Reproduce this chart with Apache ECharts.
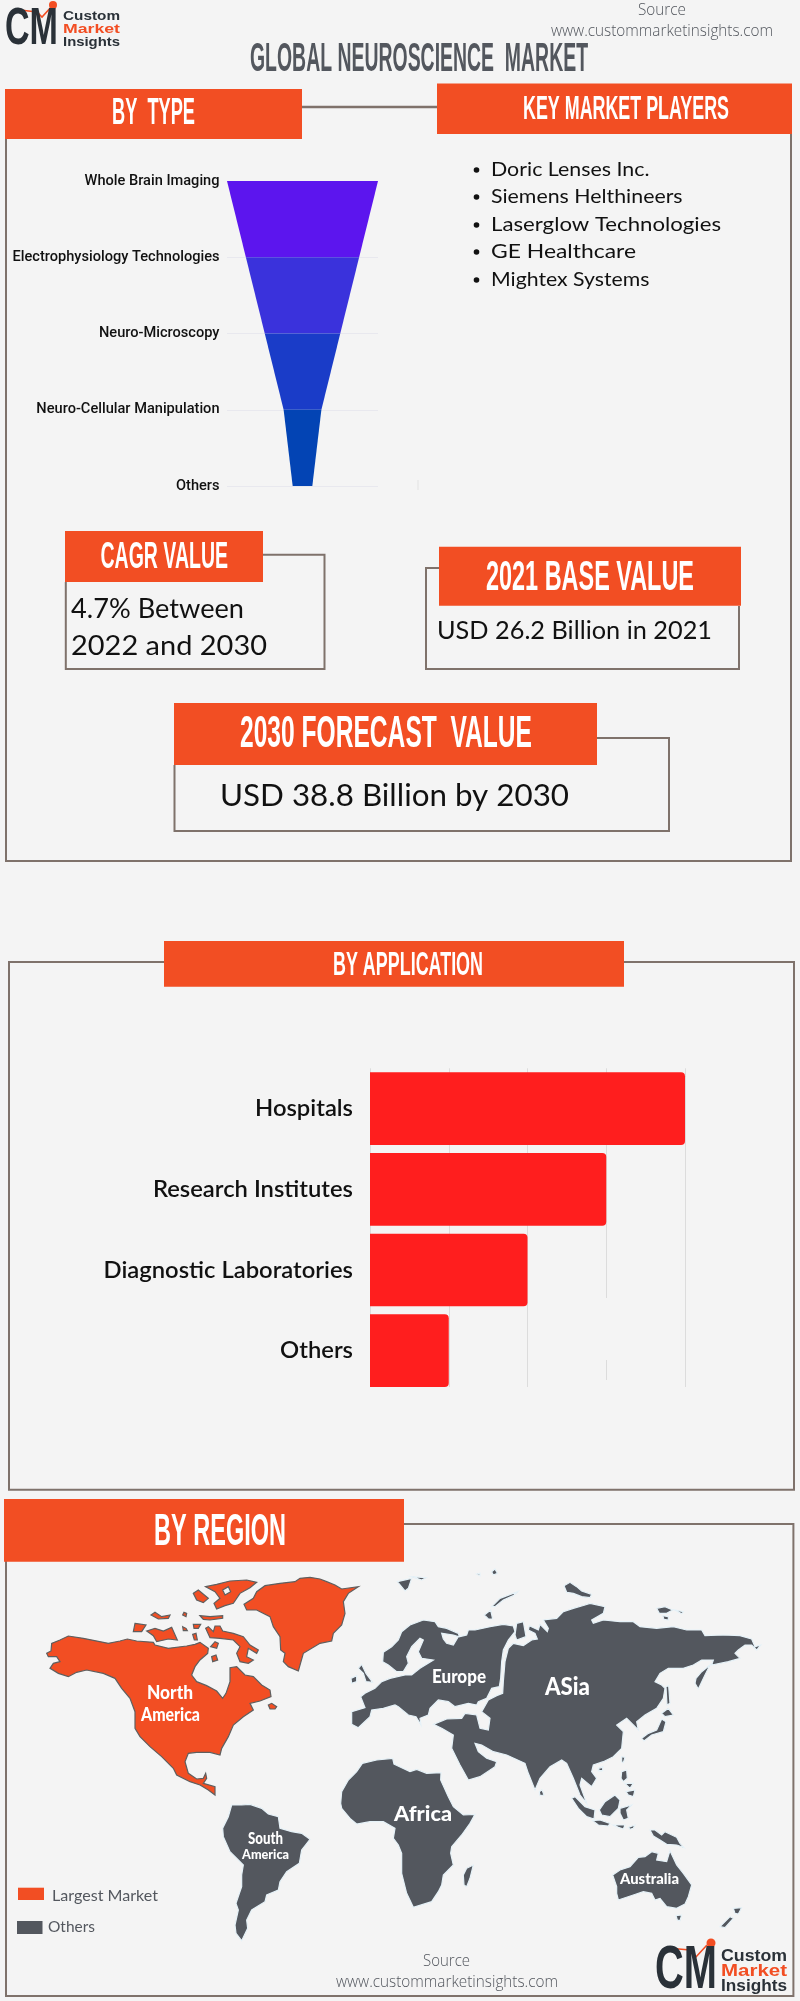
<!DOCTYPE html>
<html><head><meta charset="utf-8">
<style>html,body{margin:0;padding:0;background:#f4f4f4}#c{width:800px;height:2001px}</style>
<script src="https://cdn.jsdelivr.net/npm/echarts@6/dist/echarts.min.js"></script>
</head><body><div id="c"></div>
<script>
const typeCategories = ['Whole Brain Imaging','Electrophysiology Technologies','Neuro-Microscopy','Neuro-Cellular Manipulation','Others'];
const typeValues = [100,75,50,25,13];
const typeColors = ['#5c15ee','#3a32dc','#1a3cc8','#0344b4'];
const applicationCategories = ['Hospitals','Research Institutes','Diagnostic Laboratories','Others'];
const applicationValues = [100,75,50,25];
const keyPlayers = ['Doric Lenses Inc.','Siemens Helthineers','Laserglow Technologies','GE Healthcare','Mightex Systems'];

// Map outlines, one list of polygons per landmass.
const northAmerica = [
 [[[20,265],[33,258],[35,235],[60,225],[85,213],[130,220],[205,235],[240,228],[262,222],[290,228],[340,232],[345,240],[385,250],[440,243],[465,238],[480,232],[505,250],[503,265],[480,285],[465,305],[455,330],[470,350],[500,362],[530,378],[548,400],[558,385],[570,350],[570,308],[590,305],[615,330],[640,335],[665,360],[690,375],[693,395],[660,408],[630,415],[640,435],[610,455],[580,480],[565,515],[545,550],[540,570],[510,562],[470,562],[445,565],[435,590],[445,625],[470,642],[490,640],[497,625],[500,640],[490,655],[525,665],[525,690],[505,675],[480,660],[450,650],[410,630],[400,610],[365,575],[330,545],[300,515],[285,490],[285,440],[270,400],[245,370],[225,340],[190,325],[140,315],[110,322],[85,335],[55,325],[30,310],[40,295],[60,290],[50,275],[25,275]]],
 [[[612,118],[640,100],[650,80],[675,62],[720,55],[765,50],[780,40],[810,37],[840,42],[860,50],[885,60],[905,72],[955,65],[925,85],[910,110],[915,145],[905,180],[880,205],[875,228],[840,235],[790,265],[775,318],[745,305],[730,290],[735,265],[722,255],[720,215],[700,185],[690,155],[650,135],[620,135]]],
 [[[497,65],[530,58],[570,48],[620,45],[650,52],[630,68],[600,85],[580,115],[555,122],[530,132],[522,115],[540,100],[525,80]],[[555,90],[572,80],[565,65],[548,75]]],
 [[[460,85],[475,75],[505,100],[490,113],[470,105]]],
 [[[333,150],[345,142],[365,155],[390,150],[385,160],[355,162]]],
 [[[432,142],[440,145],[438,155],[428,150]]],
 [[[480,152],[510,155],[548,152],[548,160],[510,165],[490,163]]],
 [[[285,175],[318,180],[305,200],[280,200]]],
 [[[320,198],[345,190],[370,198],[395,187],[412,225],[385,222],[350,230],[340,212]]],
 [[[428,185],[438,190],[442,197],[430,197]]],
 [[[460,178],[482,178],[475,190],[462,190]]],
 [[[497,190],[505,185],[520,200],[525,183],[540,183],[548,198],[580,205],[610,215],[630,240],[655,255],[650,265],[625,250],[620,275],[640,285],[625,295],[600,290],[590,265],[600,245],[580,225],[540,220],[510,218]]],
 [[[458,208],[468,205],[472,225],[463,225]]],
 [[[512,245],[525,230],[535,235],[530,250]]],
 [[[515,275],[528,270],[533,285],[518,290]]],
 [[[685,420],[695,415],[710,425],[705,432],[690,432]]]
];
const europe = [
 [[[128,290],[130,262],[155,245],[175,225],[185,200],[210,180],[250,165],[285,170],[295,185],[320,190],[355,205],[358,215],[380,210],[385,195],[405,195],[450,185],[490,178],[520,183],[525,200],[505,225],[490,255],[485,290],[482,340],[478,365],[455,370],[440,400],[415,410],[410,420],[385,415],[345,425],[325,410],[295,405],[270,430],[265,450],[240,460],[243,480],[228,455],[205,450],[175,425],[165,420],[130,430],[95,435],[90,455],[55,488],[35,478],[35,440],[75,428],[62,395],[75,385],[105,370],[125,350],[150,340],[195,330],[215,330],[240,310],[280,285],[245,280],[235,260],[250,225],[240,220],[215,245],[200,275],[205,295],[190,320],[170,320],[145,300]],[[310,222],[320,235],[340,240],[355,215],[340,210],[305,205]]],
 [[[33,340],[50,332],[50,350],[35,355]]],
 [[[55,310],[65,298],[78,325],[98,352],[78,350],[70,325]]],
 [[[172,50],[215,40],[205,70],[195,78]]],
 [[[215,35],[258,38],[245,45]]],
 [[[455,20],[465,12],[472,25],[460,30]]],
 [[[410,27],[420,25],[420,32]]],
 [[[455,125],[480,100],[533,80],[520,92],[490,105],[465,125]]],
 [[[433,150],[452,135],[458,162],[445,162]]]
];
const asia = [
 [[[520,235],[550,242],[575,225],[592,222],[585,205],[565,195],[568,182],[595,195],[600,178],[622,200],[625,190],[610,165],[650,160],[670,140],[700,130],[735,120],[750,115],[795,125],[790,145],[755,165],[760,175],[790,165],[840,170],[880,170],[900,185],[950,190],[1000,185],[1040,195],[1085,195],[1095,212],[1150,210],[1200,212],[1235,222],[1245,245],[1262,240],[1250,255],[1235,240],[1215,240],[1195,255],[1185,265],[1200,280],[1165,290],[1115,300],[1120,285],[1085,285],[1060,300],[1030,310],[985,310],[960,325],[945,350],[965,360],[975,370],[970,400],[950,430],[915,450],[890,470],[895,495],[880,480],[860,460],[830,480],[850,500],[845,550],[820,575],[790,590],[760,600],[755,620],[770,640],[755,665],[725,640],[720,660],[740,715],[720,690],[700,640],[680,595],[665,585],[630,605],[600,640],[585,675],[565,625],[555,595],[500,570],[460,560],[425,540],[405,535],[415,560],[440,580],[470,590],[465,605],[420,635],[385,645],[360,600],[335,550],[340,510],[305,490],[280,478],[320,462],[365,460],[375,445],[410,450],[420,490],[445,495],[450,460],[425,440],[445,405],[470,392],[488,385],[490,350],[495,290],[505,250]]],
 [[[525,210],[530,175],[550,170],[558,215],[530,225]]],
 [[[672,62],[690,52],[710,65],[725,78],[755,88],[750,98],[725,95],[700,85],[680,82]]],
 [[[950,130],[975,125],[998,135],[980,145],[958,145]]],
 [[[1005,135],[1030,140],[1025,146]]],
 [[[968,152],[985,155],[985,165],[972,163]]],
 [[[1068,340],[1085,320],[1110,300],[1095,330],[1075,372],[1065,355]]],
 [[[965,445],[985,430],[1000,450],[975,455]]],
 [[[905,520],[925,505],[950,495],[965,462],[978,470],[970,500],[935,510],[912,528]]],
 [[[978,365],[986,362],[990,415],[981,420]]],
 [[[775,610],[788,605],[785,618],[775,618]]],
 [[[598,680],[606,674],[612,690],[600,692]]]
];
const southeastAsia = [
 [[[155,145],[165,140],[195,170],[225,180],[222,207],[200,200],[175,175]]],
 [[[238,180],[255,155],[285,135],[300,150],[295,175],[270,200],[245,195]]],
 [[[300,175],[335,165],[320,180],[325,205],[310,210],[300,190]]],
 [[[218,212],[240,210],[270,220],[265,228],[235,225]]],
 [[[280,225],[315,225],[310,237],[295,232]]],
 [[[325,232],[345,225],[340,235],[330,238]]],
 [[[305,65],[320,60],[322,85],[310,95],[303,85]]],
 [[[315,100],[340,100],[330,115]]],
 [[[318,125],[345,120],[340,140],[325,135]]],
 [[[305,20],[315,22],[310,38],[305,35]]],
 [[[235,55],[248,52],[248,62],[238,62]]],
 [[[390,240],[405,240],[425,255],[435,245],[470,262],[480,280],[492,293],[470,285],[440,283],[420,270],[400,258]]],
 [[[278,375],[300,360],[330,350],[355,322],[375,320],[395,305],[415,310],[410,330],[440,335],[450,302],[470,345],[490,370],[515,405],[505,440],[495,462],[470,475],[440,470],[420,445],[405,450],[395,430],[370,425],[340,435],[295,450],[290,430],[290,410]]],
 [[[468,497],[485,495],[480,512],[472,510]]],
 [[[640,475],[665,473],[655,492],[645,490]]],
 [[[600,530],[630,500],[640,505],[615,533]]]
];
const africaAndSouthAmerica = [
 [[[422,160],[425,125],[445,90],[470,65],[487,40],[530,30],[578,25],[582,42],[630,65],[650,58],[680,70],[723,68],[722,90],[745,140],[760,170],[790,195],[825,193],[810,220],[785,255],[755,290],[752,310],[760,345],[730,375],[725,405],[715,425],[695,455],[640,472],[620,430],[605,370],[605,310],[595,285],[580,265],[585,235],[550,215],[510,215],[470,222],[450,205],[425,175]]],
 [[[790,375],[800,355],[820,345],[810,385],[800,410],[792,405]]],
 [[[68,235],[85,200],[95,165],[125,165],[150,163],[185,175],[205,192],[235,200],[240,235],[275,245],[305,250],[330,268],[305,300],[298,340],[260,365],[240,395],[235,420],[200,435],[195,455],[155,480],[140,510],[143,535],[125,572],[108,550],[105,525],[115,480],[108,460],[125,410],[125,375],[130,345],[90,305],[70,260]]]
];

const traced = [
 ['North America', northAmerica, 40, 1565],
 ['Europe', europe, 340, 1565],
 ['Asia', asia, 340, 1565],
 ['Southeast Asia and Oceania', southeastAsia, 520, 1750],
 ['Africa and South America', africaAndSouthAmerica, 200, 1750]
];
let minX=1e9,maxX=-1e9,minY=1e9,maxY=-1e9;
const features = traced.map(([name,polys,ox,oy])=>({
  type:'Feature',properties:{name},
  geometry:{type:'MultiPolygon',coordinates:polys.map(rings=>rings.map(r=>r.map(([a,b])=>{
    const x=ox+a/3,y=oy+b/3;
    minX=Math.min(minX,x);maxX=Math.max(maxX,x);minY=Math.min(minY,y);maxY=Math.max(maxY,y);
    return [x,-y];
  })))}
}));
echarts.registerMap('world',{type:'FeatureCollection',features});

const ORANGE='#f24e23', DARK='#53575e', LINE='#7f726b', BG='#f4f4f4', INK='#111111', LOGO='#2a3138';
const ctx=document.createElement('canvas').getContext('2d');
function fit(text,x0,x1,yc,font,fill){
  ctx.font=font; const w=ctx.measureText(text).width;
  return {type:'text',x:x0,y:yc,z:10,scaleX:(x1-x0)/w,silent:true,
    style:{text,x:0,y:0,font,fill,textAlign:'left',textVerticalAlign:'middle'}};
}
const rect=(x0,y0,x1,y1,fill)=>({type:'rect',silent:true,z:5,shape:{x:x0,y:y0,width:x1-x0,height:y1-y0},style:{fill}});
const path=(points,w)=>({type:'polyline',silent:true,shape:{points},style:{stroke:LINE,fill:'none',lineWidth:w||2}});
const HEAD=n=>`bold ${n}px "Liberation Sans Narrow","Liberation Sans",sans-serif`;
const BODY=n=>`400 ${n}px Lato,sans-serif`;
const OPEN=n=>`300 ${n}px "Open Sans",sans-serif`;
const HAND=n=>`900 ${n}px Lato,sans-serif`;
const LOGOF=n=>`bold ${n}px "Liberation Sans",sans-serif`;
function logo(cx0,cx1,cy,cf,tx0,tx1,ty,tf,dot,r,pts){
  return [
    {type:'polyline',silent:true,z:9,shape:{points:pts},style:{stroke:ORANGE,fill:'none',lineWidth:1.6}},
    {type:'circle',silent:true,z:9,shape:{cx:dot[0],cy:dot[1],r},style:{fill:ORANGE}},
    fit('CM',cx0,cx1,cy,LOGOF(cf),LOGO),
    fit('Custom',tx0,tx1,ty[0],LOGOF(tf),LOGO),
    fit('Market',tx0,tx1,ty[1],LOGOF(tf),ORANGE),
    fit('Insights',tx0,tx1,ty[2],LOGOF(tf),LOGO)
  ];
}
const playerBaselines=[170,197,225,252,280], playerRight=[649.5,682.6,721,636,649.5];
const elements=[
  path([[6,139],[6,861],[791,861],[791,134]]),
  path([[302,107],[437,107]],2.5),
  path([[263,554.7],[324.5,554.7],[324.5,669],[65.8,669],[65.8,582]]),
  path([[439,568],[426,568],[426,669],[739,669],[739,606]]),
  path([[597,738],[669,738],[669,831],[174.5,831],[174.5,765]]),
  path([[164,962],[9,962],[9,1489.7],[794,1489.7],[794,962],[624,962]]),
  path([[404,1524],[793.4,1524],[793.4,1996],[6,1996],[6,1561]]),
  rect(5,89,302,139,ORANGE), rect(437,83.5,792,134,ORANGE),
  rect(65,531,263,582,ORANGE), rect(439,546.7,741,605.7,ORANGE),
  rect(174,703,597,765,ORANGE), rect(164,941,624,986.7,ORANGE), rect(4,1499,404,1561.7,ORANGE),
  rect(604,1298,609,1360,BG), rect(604,1380,609,1392,BG), rect(360,1387,700,1392,BG),
  rect(417.5,480,418.5,490,'#e2e2e2'),
  ...logo(5,58,30,52,63,120,[17,30,42.5],12.5,[53,5],4,[[20,10],[37,12],[42,17],[53,5]]),
  ...logo(655,717,1971,62,721,787,[1956.5,1971.5,1986.5],16,[711,1943],4.5,[[667,1948],[690,1950],[695,1958],[707,1945]]),
  fit('Source',638,686,10,OPEN(16),DARK),
  fit('www.custommarketinsights.com',551,773,31,OPEN(16),DARK),
  fit('Source',423,470,1961,OPEN(16),DARK),
  fit('www.custommarketinsights.com',336,558,1982,OPEN(16),DARK),
  fit('GLOBAL NEUROSCIENCE  MARKET',250,588,60,HEAD(41),DARK),
  fit('BY  TYPE',112,195,114.5,HEAD(36),'#fff'),
  fit('KEY MARKET PLAYERS',523,729,109.5,HEAD(33),'#fff'),
  fit('CAGR VALUE',100.5,228,558,HEAD(36),'#fff'),
  fit('2021 BASE VALUE',486,694,578,HEAD(43),'#fff'),
  fit('2030 FORECAST  VALUE',240,532,735,HEAD(44),'#fff'),
  fit('BY APPLICATION',333,483,965.5,HEAD(33),'#fff'),
  fit('BY REGION',154,286,1533,HEAD(44),'#fff'),
  fit('4.7% Between',71,244,609,BODY(27),INK),
  fit('2022 and 2030',71,267,646,BODY(27),INK),
  fit('USD 26.2 Billion in 2021',437,712,630.5,BODY(25),INK),
  fit('USD 38.8 Billion by 2030',220,569,796,BODY(30),INK),
  ...keyPlayers.flatMap((p,i)=>[
    {type:'circle',silent:true,shape:{cx:476.5,cy:playerBaselines[i],r:2.8},style:{fill:INK}},
    fit(p,491,playerRight[i],playerBaselines[i],BODY(20),INK)
  ]),
  fit('North',147,193,1693,HAND(18),'#fff'),
  fit('America',141,200,1715,HAND(18),'#fff'),
  fit('Europe',432,486,1677,HAND(18),'#fff'),
  fit('ASia',545,590,1687,HAND(25),'#fff'),
  fit('Africa',394,452,1814,HAND(21),'#fff'),
  fit('South',248,283,1839,HAND(16),'#fff'),
  fit('America',242,289,1854,HAND(14),'#fff'),
  fit('Australia',620,679,1879,HAND(15),'#fff'),
  rect(18,1887.7,44,1900,ORANGE),
  fit('Largest Market',52,158,1896,BODY(16),DARK),
  rect(17,1921,42.5,1934,DARK),
  fit('Others',48,95,1927,BODY(16),DARK)
];

const chart=echarts.init(document.getElementById('c'),null,{renderer:'canvas'});
chart.setOption({
  animation:false,
  backgroundColor:BG,
  grid:[
    {left:227,width:151,top:181,height:305,containLabel:false},
    {left:370,width:315,top:1068.3,height:322.7,containLabel:false}
  ],
  xAxis:[
    {gridIndex:0,type:'value',min:-50,max:50,show:false},
    {gridIndex:1,type:'value',min:0,max:100,interval:25,axisLabel:{show:false},axisLine:{show:false},axisTick:{show:false},
     splitLine:{show:true,lineStyle:{color:'#dcdcdc',width:1}}}
  ],
  yAxis:[
    {gridIndex:0,type:'category',inverse:true,boundaryGap:false,data:typeCategories,
     axisLine:{show:false},axisTick:{show:false},
     axisLabel:{interval:0,margin:7.5,color:'#111',fontFamily:'Roboto',fontWeight:500,fontSize:14.6},
     splitLine:{show:true,interval:0,lineStyle:{color:'#e8e8ee',width:1}}},
    {gridIndex:1,type:'category',inverse:true,data:applicationCategories,
     axisLine:{show:false},axisTick:{show:false},
     axisLabel:{interval:0,margin:17,color:'#111',fontFamily:'Lato',fontWeight:600,fontSize:23.8}}
  ],
  geo:{map:'world',roam:false,silent:true,left:minX,top:minY,width:maxX-minX,height:maxY-minY,
    label:{show:false},
    itemStyle:{areaColor:DARK,borderColor:'#e6f2f8',borderWidth:1.2},
    regions:[{name:'North America',itemStyle:{areaColor:ORANGE,borderColor:'#5f5f5f',borderWidth:1.2}}]},
  graphic:{elements},
  series:[
    {type:'custom',xAxisIndex:0,yAxisIndex:0,silent:true,z:3,
     data:typeValues.map((v,i)=>[v,i]),
     encode:{x:0,y:1},
     renderItem(params,api){
       const i=api.value(1);
       if(i>=typeValues.length-1) return null;
       const v=typeValues[i], n=typeValues[i+1];
       return {type:'polygon',shape:{points:[api.coord([-v/2,i]),api.coord([v/2,i]),api.coord([n/2,i+1]),api.coord([-n/2,i+1])]},
         style:{fill:typeColors[i]}};
     }},
    {type:'bar',xAxisIndex:1,yAxisIndex:1,silent:true,data:applicationValues,barWidth:72.7,
     itemStyle:{color:'#ff1e1e',borderRadius:[0,4,4,0]}}
  ]
});
</script></body></html>
